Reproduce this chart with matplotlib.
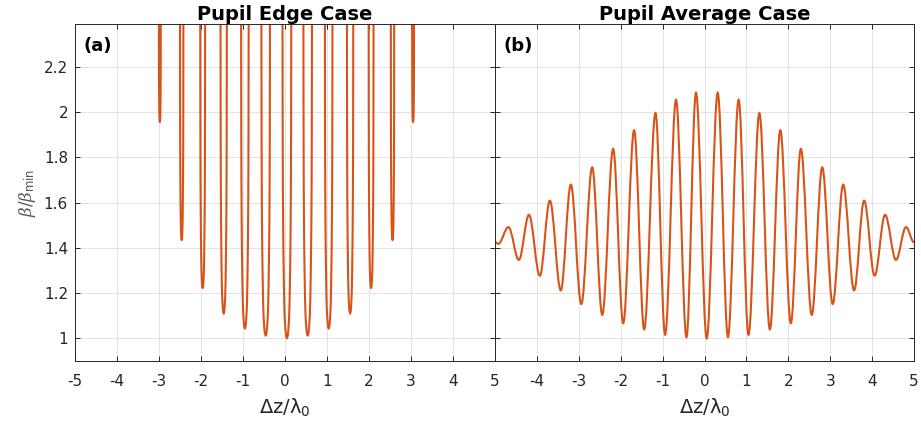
import numpy as np
import matplotlib
matplotlib.use("Agg")
import matplotlib.pyplot as plt
from matplotlib.path import Path
from matplotlib.patches import PathPatch

plt.rcParams["font.family"] = ["DejaVu Sans"]
plt.rcParams["mathtext.fontset"] = "custom"
plt.rcParams["mathtext.rm"] = "DejaVu Sans"
plt.rcParams["mathtext.it"] = "DejaVu Serif:italic"

# (a) pupil edge: resonance dips (centre, minimum, half-width where they leave the frame)
dip_x = [-2.98, -2.46, -1.96, -1.46, -0.955, -0.46, 0.045, 0.54, 1.04, 1.55, 2.05, 2.56, 3.05]
dip_min = [1.956, 1.434, 1.222, 1.109, 1.043, 1.012, 1.0, 1.012, 1.043, 1.109, 1.222, 1.434, 1.956]
dip_halfwidth = [0.022, 0.040, 0.058, 0.075, 0.090, 0.102, 0.104, 0.102, 0.090, 0.075, 0.058, 0.040, 0.022]

# common dip profile: fractional offset from centre vs fractional rise toward the top
profile_s = [0, 0.2, 0.35, 0.5, 0.58, 0.65, 0.73, 0.81, 0.87, 0.92, 0.96, 1.0, 1.03]
profile_q = [0, 0.008, 0.03, 0.065, 0.1, 0.144, 0.21, 0.288, 0.38, 0.49, 0.65, 1.0, 1.4]

# (b) pupil average: successive extrema of the oscillation
avg_x = [-5.0, -4.92, -4.68, -4.43, -4.19, -3.93, -3.69, -3.43, -3.19, -2.94, -2.68,
         -2.44, -2.18, -1.94, -1.68, -1.44, -1.17, -0.94, -0.68, -0.43, -0.203,
         0.053, 0.315, 0.56, 0.815, 1.05, 1.31, 1.56, 1.81, 2.06, 2.30,
         2.56, 2.81, 3.06, 3.31, 3.57, 3.81, 4.06, 4.31, 4.57, 4.81, 5.0]
avg_y = [1.425, 1.418, 1.492, 1.347, 1.546, 1.277, 1.609, 1.212, 1.680, 1.152, 1.756,
         1.104, 1.838, 1.067, 1.920, 1.040, 1.996, 1.016, 2.055, 1.006, 2.086,
         1.000, 2.086, 1.006, 2.055, 1.016, 1.996, 1.040, 1.920, 1.067, 1.838,
         1.104, 1.756, 1.152, 1.680, 1.212, 1.609, 1.277, 1.546, 1.347, 1.492, 1.425]

xticks = [-5, -4, -3, -2, -1, 0, 1, 2, 3, 4, 5]
yticks = [1, 1.2, 1.4, 1.6, 1.8, 2, 2.2]
ylim = (0.9, 2.39)

line_color = "#D95319"
ax_color = "#262626"
grid_color = "#e3e3e3"

fig = plt.figure(figsize=(9.21, 4.23), dpi=100)
ax1 = fig.add_axes([75 / 921, 1 - 361 / 423, 420 / 921, 337 / 423])
ax2 = fig.add_axes([495 / 921, 1 - 361 / 423, 419 / 921, 337 / 423])

# left panel: each dip drawn from its profile
top = ylim[1]
for cx, m, w in zip(dip_x, dip_min, dip_halfwidth):
    s = np.array(profile_s)
    q = np.array(profile_q)
    xs = np.concatenate([cx - w * s[::-1], cx + w * s[1:]])
    ys = np.concatenate([m + (top - m) * q[::-1], m + (top - m) * q[1:]])
    ax1.plot(xs, ys, color=line_color, lw=1.5, solid_joinstyle="round")

# right panel: smooth curve through the extrema with flat tangents
verts = [(avg_x[0], avg_y[0])]
codes = [Path.MOVETO]
for x0, y0, x1, y1 in zip(avg_x[:-1], avg_y[:-1], avg_x[1:], avg_y[1:]):
    dx = x1 - x0
    verts += [(x0 + 0.36 * dx, y0), (x1 - 0.36 * dx, y1), (x1, y1)]
    codes += [Path.CURVE4] * 3
ax2.add_patch(PathPatch(Path(verts, codes), fill=False, edgecolor=line_color, lw=1.5))

for ax, tag, title in [(ax1, "(a)", "Pupil Edge Case"), (ax2, "(b)", "Pupil Average Case")]:
    ax.set_xlim(-5, 5)
    ax.set_ylim(*ylim)
    ax.set_xticks(xticks)
    ax.set_yticks(yticks)
    ax.grid(True, color=grid_color, lw=0.7)
    ax.set_axisbelow(True)
    ax.tick_params(direction="in", top=True, right=True, length=3.5, width=0.7,
                   color=ax_color, labelcolor=ax_color, labelsize=11)
    ax.tick_params(axis="x", pad=9)
    ax.tick_params(axis="y", pad=5)
    for sp in ax.spines.values():
        sp.set_color(ax_color)
        sp.set_linewidth(0.7)
    ax.set_title(title, fontsize=14, fontweight="bold", pad=3)
    ax.text(0.02, 0.962, tag, transform=ax.transAxes, ha="left", va="top",
            fontsize=13, fontweight="bold", color="black")
    ax.set_xlabel(r"$\mathrm{\Delta z/\lambda_0}$", fontsize=14, color=ax_color, labelpad=6)

ax1.set_xticklabels([str(t) for t in xticks])
ax1.set_yticklabels(["1", "1.2", "1.4", "1.6", "1.8", "2", "2.2"])
ax1.set_ylabel(r"$\beta/\beta_{\mathrm{min}}$", fontsize=12, color="#555555", labelpad=4)
ax2.set_xticklabels([""] + [str(t) for t in xticks[1:]])
ax2.set_yticklabels([])

fig.savefig("out.png", dpi=100)
